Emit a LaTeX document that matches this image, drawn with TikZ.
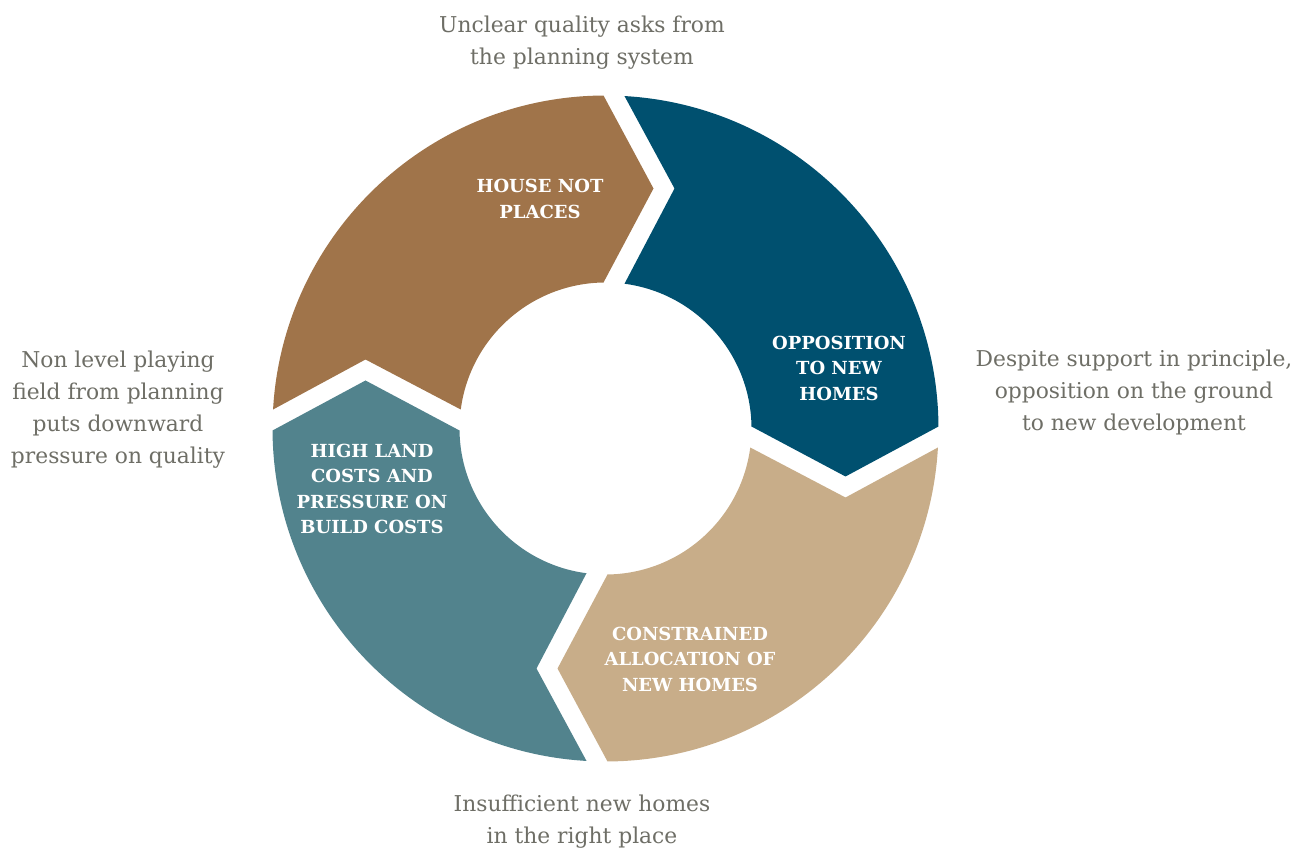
\documentclass[tikz,border=0pt]{standalone}
\usepackage{fontspec}
\setmainfont{DejaVu Serif}
\definecolor{cblue}{HTML}{00506F}
\definecolor{ctan}{HTML}{C8AD89}
\definecolor{cteal}{HTML}{52838D}
\definecolor{cbrown}{HTML}{A0744A}
\definecolor{cgray}{HTML}{6E6E66}
\tikzset{
  sidetext/.style={text=cgray, align=center, font=\fontsize{21.8}{32}\selectfont, inner sep=0pt},
  segtext/.style={text=white, align=center, font=\fontsize{18}{25.5}\selectfont\bfseries, inner sep=0pt},
}
\begin{document}
\begin{tikzpicture}[x=1pt,y=1pt]
\useasboundingbox (0,0) rectangle (1312,849);
\foreach \ang/\col in {0/cblue,-90/ctan,-180/cteal,90/cbrown}{
  \fill[\col, shift={(605.5,420.5)}, rotate=\ang]
    (86.73:333) arc[start angle=86.73, end angle=0.344, radius=333]
    -- (240,-48) -- (0.785:146)
    arc[start angle=0.785, end angle=82.52, radius=146]
    -- (69,240) -- cycle;
}
\node[segtext] (house) at (540,650) {HOUSE NOT\\PLACES};
\node[segtext] (opp) at (839,481) {OPPOSITION\\TO NEW\\HOMES};
\node[segtext] (high) at (372,360) {HIGH LAND\\COSTS AND\\PRESSURE ON\\BUILD COSTS};
\node[segtext] (cons) at (690,190) {CONSTRAINED\\ALLOCATION OF\\NEW HOMES};
\node[sidetext] (top) at (582,806) {Unclear quality asks from\\the planning system};
\node[sidetext] (right) at (1134,457) {Despite support in principle,\\opposition on the ground\\to new development};
\node[sidetext] (left) at (118,439) {Non level playing\\field from planning\\puts downward\\pressure on quality};
\node[sidetext] (bottom) at (582,27) {Insufficient new homes\\in the right place};
\end{tikzpicture}
\end{document}
